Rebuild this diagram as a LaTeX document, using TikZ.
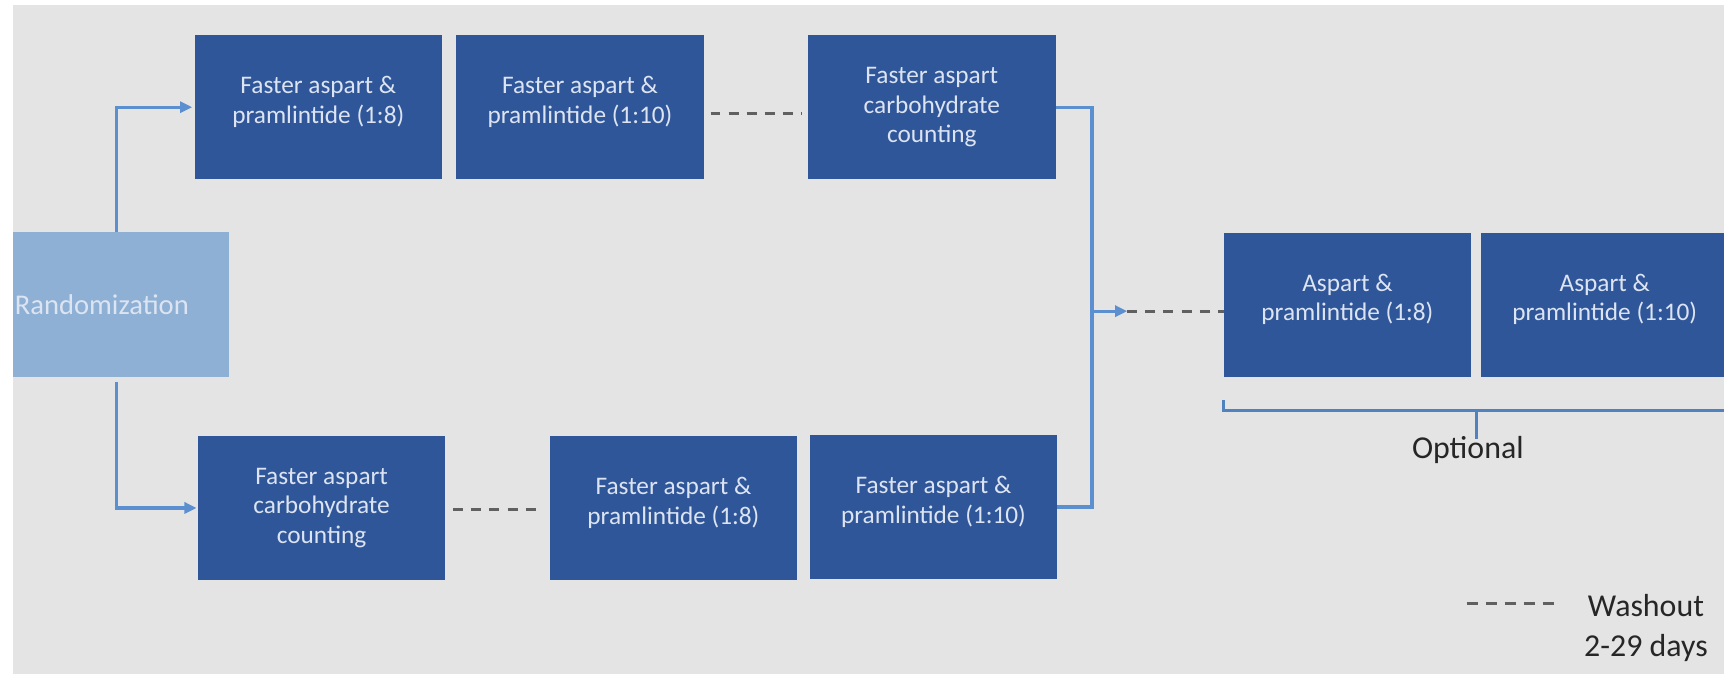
\documentclass[tikz,border=0pt]{standalone}
\usepackage{fontspec}
\setmainfont{Carlito}
\usetikzlibrary{arrows.meta,calc}
\definecolor{bg}{HTML}{E4E4E4}
\definecolor{boxblue}{HTML}{30569A}
\definecolor{randblue}{HTML}{8FB0D5}
\definecolor{lineblue}{HTML}{5B8FCF}
\definecolor{brkblue}{HTML}{4F82BE}
\definecolor{boxtext}{HTML}{DCE4F1}
\definecolor{dashgray}{HTML}{606060}
\definecolor{darktext}{HTML}{262626}
\newcommand\uptext[1]{\raisebox{4pt}[\height][\depth]{\begin{tabular}{@{}c@{}}#1\end{tabular}}}
\tikzset{
  armbox/.style={rectangle, fill=boxblue, text=boxtext, minimum width=225pt,
    minimum height=131pt, align=center, inner sep=0pt,
    font=\fontsize{23}{27}\selectfont},
  randbox/.style={rectangle, fill=randblue, text=boxtext, minimum width=196pt,
    minimum height=132pt, text width=193pt, align=left, inner xsep=1.5pt, inner ysep=0pt,
    font=\fontsize{26}{31}\selectfont},
  conn/.style={draw=lineblue, line width=3pt},
  arr/.style={conn, -{Triangle[length=11pt,width=10pt]}},
  washout/.style={draw=dashgray, line width=2.6pt, dash pattern=on 9pt off 7.5pt},
  brk/.style={draw=brkblue, line width=2.6pt},
  plain/.style={text=darktext, align=center, inner sep=0pt}
}
\begin{document}
\begin{tikzpicture}[x=1pt,y=-1pt]
\useasboundingbox (0,0) rectangle (1568,613);
\clip (0,0) rectangle (1568,613);
\fill[white] (0,0) rectangle (1568,613);
\fill[bg] (12,4.5) rectangle (1568,613);

% nodes
\node[randbox] (rand) at (110,277) {Randomization};
\node[armbox] (T1) at (289.5,97.5) {\uptext{Faster aspart \&\\pramlintide (1:8)}};
\node[armbox] (T2) at (527.5,97.5) {\uptext{Faster aspart \&\\pramlintide (1:10)}};
\node[armbox] (T3) at (847.5,97.5) {Faster aspart\\carbohydrate\\counting};
\node[armbox] (B1) at (292.5,462) {Faster aspart\\carbohydrate\\counting};
\node[armbox] (B2) at (612.5,462) {\uptext{Faster aspart \&\\pramlintide (1:8)}};
\node[armbox] (B3) at (849,461) {\uptext{Faster aspart \&\\pramlintide (1:10)}};
\node[armbox] (O1) at (1225.5,277) {\uptext{Aspart \&\\pramlintide (1:8)}};
\node[armbox] (O2) at (1459.5,277) {\uptext{Aspart \&\\pramlintide (1:10)}};

% randomization arrows
\draw[arr, shorten >=2pt] ([xshift=-4pt]rand.north) |- (T1.west);
\draw[arr, shorten >=1pt] ([xshift=-4pt,yshift=-4pt]rand.south) |- (B1.west);

% washout dashes between arms
\draw[washout] ([xshift=6pt,yshift=-5.5pt]T2.east) -- ([xshift=-6pt,yshift=-5.5pt]T3.west);
\draw[washout] ([xshift=7pt,yshift=-1pt]B1.east) -- ([xshift=-6pt,yshift=-1pt]B2.west);

% merge connector
\coordinate (jtop) at ($(T3.east)+(33,0)$);
\coordinate (j) at (jtop |- O1.west);
\coordinate (jbot) at (jtop |- B3.east);
\coordinate (jt) at ($(j)+(32,6)$);
\draw[conn] (T3.east) -- (jtop) -- (jbot) -- (B3.east);
\draw[arr] ([yshift=-6pt]j) -- (jt);
\draw[washout] (jt) -- (jt -| O1.west);

% optional bracket
\coordinate (bl) at ([yshift=-21pt]O1.south west);
\coordinate (br) at ([yshift=-31pt]O2.south east);
\coordinate (bm) at ($(bl |- br)!0.5!(br)$);
\draw[brk] (bl) |- (br);
\draw[brk] (bm) -- ++(0,26);
\node[plain, font=\fontsize{29}{35}\selectfont] (opt) at (1335,409) {Optional};

% legend
\coordinate (lg1) at (1334,549);
\coordinate (lg2) at (1414,549);
\draw[washout, line width=2.2pt, dash pattern=on 10pt off 7.3pt] (lg1) -- (lg2);
\node[plain, font=\fontsize{29}{36}\selectfont] (leg) at (1497,571) {Washout\\2-29 days};
\end{tikzpicture}
\end{document}
